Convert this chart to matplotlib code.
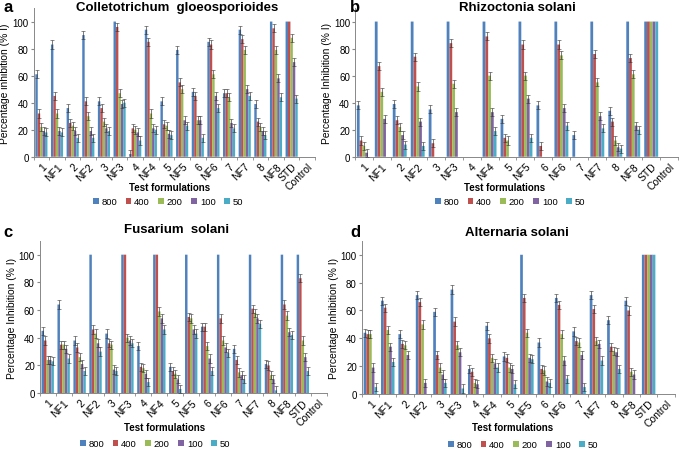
import numpy as np
import matplotlib
matplotlib.use("Agg")
import matplotlib.pyplot as plt

plt.rcParams['font.family'] = ['Liberation Sans', 'DejaVu Sans']

categories = ["1", "NF1", "2", "NF2", "3", "NF3", "4", "NF4", "5", "NF5",
              "6", "NF6", "7", "NF7", "8", "NF8", "STD", "Control"]
concentrations = ["800", "400", "200", "100", "50"]
colors = ["#4F81BD", "#C0504D", "#9BBB59", "#8064A2", "#4BACC6"]

# Panel a: Colletotrichum gloeosporioides
a_800 = [61, 83, 36, 90, 41, 100, 2, 94, 41, 79, 48, 85, 47, 94, 39, 100, 100, 0]
a_400 = [32, 45, 25, 41, 36, 96, 21, 85, 24, 55, 45, 83, 47, 87, 26, 95, 100, 0]
a_200 = [22, 32, 23, 30, 26, 47, 20, 32, 23, 50, 27, 61, 44, 79, 22, 79, 88, 0]
a_100 = [19, 19, 19, 19, 21, 39, 18, 21, 17, 27, 27, 45, 25, 50, 19, 58, 70, 0]
a_50 = [18, 18, 14, 14, 19, 40, 12, 20, 16, 23, 14, 36, 21, 45, 16, 44, 43, 0]

# Panel b: Rhizoctonia solani
b_800 = [38, 100, 39, 100, 35, 100, 0, 100, 28, 100, 38, 100, 16, 100, 34, 100, 100, 0]
b_400 = [12, 67, 27, 74, 10, 84, 0, 89, 14, 83, 8, 83, 0, 76, 26, 73, 100, 0]
b_200 = [8, 48, 22, 52, 0, 54, 0, 60, 12, 60, 0, 75, 0, 55, 12, 61, 100, 0]
b_100 = [3, 28, 16, 26, 0, 33, 0, 33, 0, 43, 0, 36, 0, 30, 7, 23, 100, 0]
b_50 = [0, 0, 9, 8, 0, 0, 0, 19, 0, 14, 0, 23, 0, 21, 6, 20, 100, 0]

# Panel c: Fusarium solani
c_800 = [45, 64, 38, 100, 43, 100, 34, 100, 19, 100, 48, 100, 32, 100, 21, 100, 100, 0]
c_400 = [38, 35, 33, 46, 36, 100, 19, 100, 16, 55, 48, 54, 24, 61, 20, 64, 83, 0]
c_200 = [24, 35, 26, 43, 35, 40, 18, 59, 14, 54, 34, 38, 15, 58, 13, 56, 38, 0]
c_100 = [24, 32, 21, 36, 17, 38, 14, 54, 10, 46, 25, 33, 13, 54, 10, 44, 26, 0]
c_50 = [23, 25, 16, 30, 16, 36, 8, 46, 3, 43, 16, 29, 10, 50, 2, 42, 16, 0]

# Panel d: Alternaria solani
d_800 = [44, 67, 43, 71, 59, 75, 18, 49, 27, 100, 37, 69, 45, 71, 53, 67, 100, 0]
d_400 = [43, 62, 36, 66, 28, 52, 16, 40, 26, 69, 18, 64, 38, 61, 34, 60, 100, 0]
d_200 = [43, 46, 35, 50, 19, 35, 8, 26, 19, 44, 17, 43, 37, 38, 31, 16, 100, 0]
d_100 = [19, 34, 28, 8, 14, 30, 7, 22, 18, 26, 9, 24, 28, 36, 30, 14, 100, 0]
d_50 = [5, 23, 0, 0, 8, 4, 0, 19, 7, 25, 8, 11, 5, 24, 18, 0, 100, 0]

err_size = 3.0

panels = [
    dict(letter="a", title="Colletotrichum  gloeosporioides",
         ylabel="Percentage inhibition (% I)",
         series=[a_800, a_400, a_200, a_100, a_50],
         rect=[0.049, 0.651, 0.411, 0.329],
         title_xy=(177, 8), letter_xy=(3, 8),
         xlab_xy=(170, 188), leg_xy=(168, 203)),
    dict(letter="b", title="Rhizoctonia solani",
         ylabel="Percentage Inhibition (% I)",
         series=[b_800, b_400, b_200, b_100, b_50],
         rect=[0.518, 0.651, 0.472, 0.329],
         title_xy=(517, 8), letter_xy=(350, 8),
         xlab_xy=(505, 188), leg_xy=(510, 203)),
    dict(letter="c", title="Fusarium  solani",
         ylabel="Percentage Inhibition (% I)",
         series=[c_800, c_400, c_200, c_100, c_50],
         rect=[0.058, 0.128, 0.419, 0.337],
         title_xy=(177, 230), letter_xy=(3, 233),
         xlab_xy=(165, 428), leg_xy=(155, 445)),
    dict(letter="d", title="Alternaria solani",
         ylabel="Percentage Inhibition (% I)",
         series=[d_800, d_400, d_200, d_100, d_50],
         rect=[0.528, 0.126, 0.457, 0.339],
         title_xy=(517, 233), letter_xy=(350, 233),
         xlab_xy=(513, 428), leg_xy=(523, 446)),
]

W, H = 685, 452
fig = plt.figure(figsize=(W / 100, H / 100), dpi=100)

def fx(px):
    return px / W

def fy(py):
    return 1 - py / H

x = np.arange(len(categories))
n = len(concentrations)
bw = 0.155

for p in panels:
    ax = fig.add_axes(p["rect"])
    handles = []
    for i, (vals, col) in enumerate(zip(p["series"], colors)):
        v = np.array(vals, dtype=float)
        pos = x + (i - (n - 1) / 2) * bw
        yerr = np.where((v > 0) & (v < 100), err_size, 0.0)
        b = ax.bar(pos, v, width=bw, color=col, edgecolor='none', linewidth=0,
                   zorder=2, snap=False)
        ax.errorbar(pos[yerr > 0], v[yerr > 0], yerr=yerr[yerr > 0], fmt='none',
                    ecolor='#333333', elinewidth=0.45, capsize=1.1, capthick=0.4, zorder=3)
        handles.append(b)
    ax.set_xlim(-0.5, len(categories) - 0.5)
    ax.set_ylim(0, 110)
    ax.set_yticks([0, 20, 40, 60, 80, 100])
    ax.set_xticks(x)
    ax.set_xticklabels(categories, rotation=45, ha='right', rotation_mode='anchor',
                       fontsize=7.5)
    ax.set_xticks(np.arange(-0.5, len(categories), 1.0), minor=True)
    ax.tick_params(axis='x', which='major', length=0, pad=3)
    ax.tick_params(axis='x', which='minor', length=2, color='#888888')
    ax.tick_params(axis='y', labelsize=7, length=2, color='#888888', pad=1.5)
    for s in ['top', 'right']:
        ax.spines[s].set_visible(False)
    for s in ['left', 'bottom']:
        ax.spines[s].set_color('#888888')
        ax.spines[s].set_linewidth(0.7)
    ax.set_ylabel(p["ylabel"], fontsize=7.4, labelpad=1.5)

    fig.text(fx(p["title_xy"][0]), fy(p["title_xy"][1]), p["title"], fontsize=9.5,
             fontweight='bold', ha='center', va='center')
    fig.text(fx(p["letter_xy"][0]), fy(p["letter_xy"][1]), p["letter"], fontsize=12,
             fontweight='bold', ha='left', va='center')
    fig.text(fx(p["xlab_xy"][0]), fy(p["xlab_xy"][1]), "Test formulations", fontsize=7,
             fontweight='bold', ha='center', va='center')
    fig.legend(handles, concentrations, loc='center', ncol=5, frameon=False,
               bbox_to_anchor=(fx(p["leg_xy"][0]), fy(p["leg_xy"][1])),
               fontsize=6.8, handlelength=0.6, handleheight=0.6, handletextpad=0.3,
               columnspacing=0.9, borderpad=0)

fig.savefig("out.png", dpi=100)
